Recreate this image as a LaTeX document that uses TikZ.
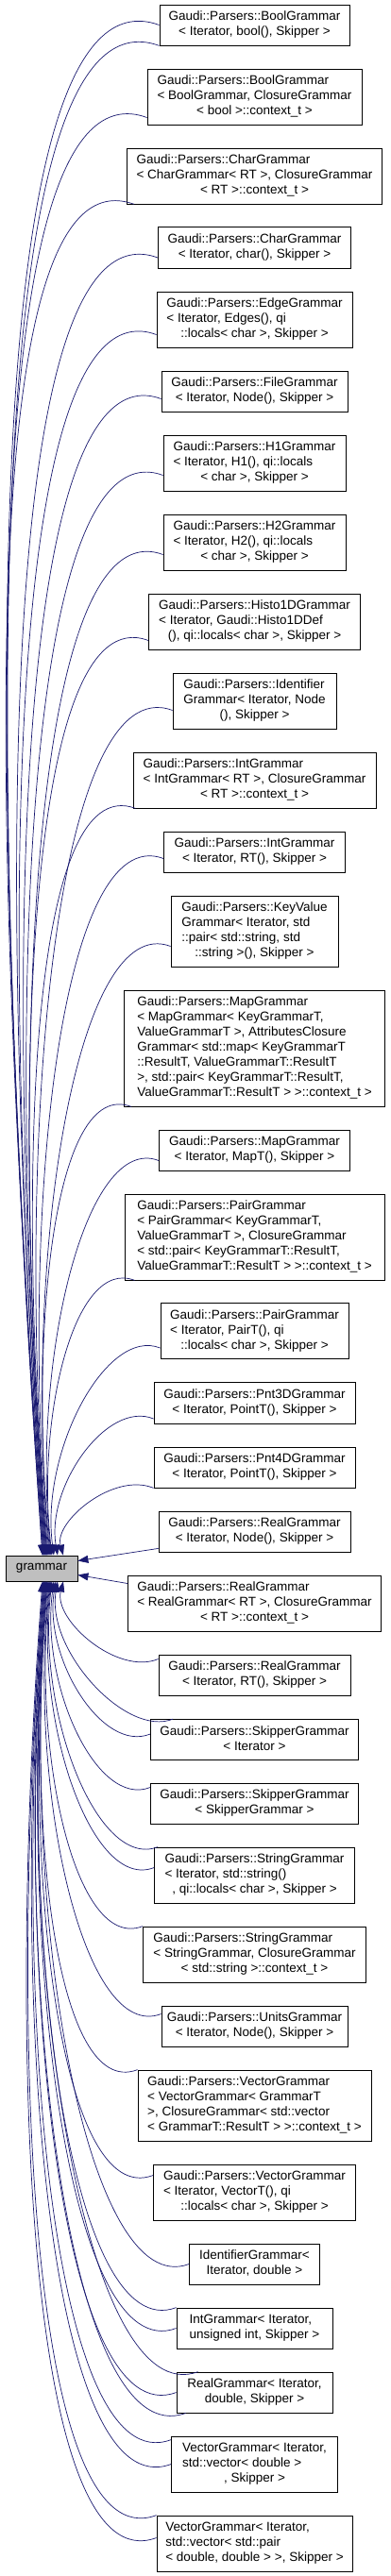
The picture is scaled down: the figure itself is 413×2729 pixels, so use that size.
\documentclass[tikz,border=0pt]{standalone}
\usepackage{fontspec}
\setmainfont{Liberation Sans}
\usetikzlibrary{arrows.meta,calc}
\definecolor{edgec}{HTML}{191970}
\definecolor{gfill}{HTML}{BFBFBF}
\newcommand\lbl[2]{\begin{tabular}{@{}l@{}}#1\\\multicolumn{1}{@{}c@{}}{#2}\end{tabular}}
\tikzset{
 box/.style={draw=black, line width=0.8pt, fill=white, inner sep=0pt, font=\fontsize{13.5}{16}\selectfont},
 edge/.style={draw=edgec, line width=0.7pt, -{Triangle[length=11pt,width=8pt]}},
}
\newcommand\bx[5]{\node[box, minimum width=#2pt, minimum height=#3pt] (#1) at (269.5,#4) {#5};}
% upper edge: #1 start point on box, #2 xshift at grammar top
\newcommand\upe[2]{\draw[edge] let \p1=(#1), \p2=([xshift=#2]g.north), \n1={\y1-\y2} in (\p1) .. controls ($(\p1)+({-(35+0.1*\n1)},{15+0.035*\n1})$) and ({\x2-(8+0.03*\n1)},{0.5*(\y1+\y2)}) .. (\p2);}
% lower edge
\newcommand\dne[2]{\draw[edge] let \p1=(#1), \p2=([xshift=#2]g.south), \n1={\y2-\y1} in (\p1) .. controls ($(\p1)+({-(35+0.1*\n1)},{-(15+0.035*\n1)})$) and ({\x2-(8+0.03*\n1)},{0.5*(\y1+\y2)}) .. (\p2);}
\begin{document}
\begin{tikzpicture}[x=1pt,y=-1pt]
\fill[white] (0,0) rectangle (413,2729);
\useasboundingbox (0,0) rectangle (413,2729);
\node[box, fill=gfill, minimum width=76pt, minimum height=27pt] (g) at (44,1661.5) {grammar};
\bx{b1}{201}{43}{26.5}{\lbl{Gaudi::Parsers::BoolGrammar}{< Iterator, bool(), Skipper >}}
\bx{b2}{227}{59}{102.5}{\lbl{Gaudi::Parsers::BoolGrammar\\< BoolGrammar, ClosureGrammar}{< bool >::context\_t >}}
\bx{b3}{270}{59}{186.5}{\lbl{Gaudi::Parsers::CharGrammar\\< CharGrammar< RT >, ClosureGrammar}{< RT >::context\_t >}}
\bx{b4}{204}{44}{262}{\lbl{Gaudi::Parsers::CharGrammar}{< Iterator, char(), Skipper >}}
\bx{b5}{207}{59}{338.5}{\lbl{Gaudi::Parsers::EdgeGrammar\\< Iterator, Edges(), qi}{::locals< char >, Skipper >}}
\bx{b6}{197}{43}{414.5}{\lbl{Gaudi::Parsers::FileGrammar}{< Iterator, Node(), Skipper >}}
\bx{b7}{193}{59}{490.5}{\lbl{Gaudi::Parsers::H1Grammar\\< Iterator, H1(), qi::locals}{< char >, Skipper >}}
\bx{b8}{193}{59}{574.5}{\lbl{Gaudi::Parsers::H2Grammar\\< Iterator, H2(), qi::locals}{< char >, Skipper >}}
\bx{b9}{224}{59}{658.5}{\lbl{Gaudi::Parsers::Histo1DGrammar\\< Iterator, Gaudi::Histo1DDef}{(), qi::locals< char >, Skipper >}}
\bx{b10}{173}{59}{742.5}{\lbl{Gaudi::Parsers::Identifier\\Grammar< Iterator, Node}{(), Skipper >}}
\bx{b11}{257}{59}{826.5}{\lbl{Gaudi::Parsers::IntGrammar\\< IntGrammar< RT >, ClosureGrammar}{< RT >::context\_t >}}
\bx{b12}{192}{43}{902.5}{\lbl{Gaudi::Parsers::IntGrammar}{< Iterator, RT(), Skipper >}}
\bx{b13}{177}{75}{986.5}{\lbl{Gaudi::Parsers::KeyValue\\Grammar< Iterator, std\\::pair< std::string, std}{::string >(), Skipper >}}
\bx{b14}{276}{123}{1110.5}{\lbl{Gaudi::Parsers::MapGrammar\\< MapGrammar< KeyGrammarT,\\ValueGrammarT >, AttributesClosure\\Grammar< std::map< KeyGrammarT\\::ResultT, ValueGrammarT::ResultT\\>, std::pair< KeyGrammarT::ResultT,}{ValueGrammarT::ResultT > >::context\_t >}}
\bx{b15}{202}{43}{1218.5}{\lbl{Gaudi::Parsers::MapGrammar}{< Iterator, MapT(), Skipper >}}
\bx{b16}{275}{91}{1310.5}{\lbl{Gaudi::Parsers::PairGrammar\\< PairGrammar< KeyGrammarT,\\ValueGrammarT >, ClosureGrammar\\< std::pair< KeyGrammarT::ResultT,}{ValueGrammarT::ResultT > >::context\_t >}}
\bx{b17}{199}{59}{1410}{\lbl{Gaudi::Parsers::PairGrammar\\< Iterator, PairT(), qi}{::locals< char >, Skipper >}}
\bx{b18}{213}{44}{1486}{\lbl{Gaudi::Parsers::Pnt3DGrammar}{< Iterator, PointT(), Skipper >}}
\bx{b19}{213}{43}{1554.5}{\lbl{Gaudi::Parsers::Pnt4DGrammar}{< Iterator, PointT(), Skipper >}}
\bx{b20}{203}{43}{1622.5}{\lbl{Gaudi::Parsers::RealGrammar}{< Iterator, Node(), Skipper >}}
\bx{b21}{268}{59}{1698.5}{\lbl{Gaudi::Parsers::RealGrammar\\< RealGrammar< RT >, ClosureGrammar}{< RT >::context\_t >}}
\bx{b22}{203}{43}{1774.5}{\lbl{Gaudi::Parsers::RealGrammar}{< Iterator, RT(), Skipper >}}
\bx{b23}{220}{43}{1843}{\lbl{Gaudi::Parsers::SkipperGrammar}{< Iterator >}}
\bx{b24}{220}{43}{1910.5}{\lbl{Gaudi::Parsers::SkipperGrammar}{< SkipperGrammar >}}
\bx{b25}{212}{59}{1986.5}{\lbl{Gaudi::Parsers::StringGrammar\\< Iterator, std::string()}{, qi::locals< char >, Skipper >}}
\bx{b26}{236}{59}{2070.5}{\lbl{Gaudi::Parsers::StringGrammar\\< StringGrammar, ClosureGrammar}{< std::string >::context\_t >}}
\bx{b27}{197}{43}{2146.5}{\lbl{Gaudi::Parsers::UnitsGrammar}{< Iterator, Node(), Skipper >}}
\bx{b28}{247}{75}{2230.5}{\lbl{Gaudi::Parsers::VectorGrammar\\< VectorGrammar< GrammarT\\>, ClosureGrammar< std::vector}{< GrammarT::ResultT > >::context\_t >}}
\bx{b29}{214}{59}{2322.5}{\lbl{Gaudi::Parsers::VectorGrammar\\< Iterator, VectorT(), qi}{::locals< char >, Skipper >}}
\bx{b30}{138}{43}{2398.5}{\lbl{IdentifierGrammar<}{Iterator, double >}}
\bx{b31}{165}{43}{2466.5}{\lbl{IntGrammar< Iterator,}{unsigned int, Skipper >}}
\bx{b32}{165}{43}{2534.5}{\lbl{RealGrammar< Iterator,}{double, Skipper >}}
\bx{b33}{176}{59}{2610.5}{\lbl{VectorGrammar< Iterator,\\std::vector< double >}{, Skipper >}}
\bx{b34}{207}{59}{2694.5}{\lbl{VectorGrammar< Iterator,\\std::vector< std::pair}{< double, double > >, Skipper >}}
% upper edges
\upe{b1.west}{1}
\upe{b1.south west}{1}
\upe{[yshift=-22]b2.west}{2}
\upe{[xshift=8]b3.south west}{2}
\upe{[yshift=-11]b4.west}{3}
\upe{[yshift=-16]b5.west}{3}
\upe{[yshift=-8]b6.west}{4}
\upe{[yshift=-13]b7.west}{4}
\upe{[yshift=-13]b8.west}{5}
\upe{[yshift=-20]b9.west}{5}
\upe{[yshift=-10]b10.west}{6}
\upe{[xshift=3]b11.south west}{6}
\upe{[yshift=-7]b12.west}{7}
\upe{[yshift=-16]b13.west}{8}
\upe{[xshift=8]b14.south west}{9}
\upe{[yshift=-11]b15.west}{10}
\upe{[xshift=11]b16.south west}{11}
\upe{[yshift=-18]b17.west}{13}
\upe{[yshift=-17]b18.west}{17}
\upe{b19.south west}{23}
\draw[edge] ([yshift=4]b20.south west) -- ([yshift=8]g.east);
\draw[edge] ([yshift=21]b21.west) -- ([yshift=-7]g.east);
% lower edges
\dne{[yshift=17]b22.west}{23}
\dne{[xshift=24]b23.north west}{17}
\dne{[yshift=6]b23.west}{15}
\dne{[yshift=17]b24.west}{13}
\dne{[xshift=4]b25.north west}{11}
\dne{[yshift=8]b25.west}{10}
\dne{b26.north west}{9}
\dne{[yshift=13]b27.west}{8}
\dne{b28.north west}{7}
\dne{[yshift=18]b29.west}{6}
\dne{b30.west}{6}
\dne{b31.north west}{5}
\dne{b31.west}{5}
\dne{[xshift=23]b32.north west}{4}
\dne{b32.west}{4}
\dne{[xshift=10]b32.south west}{3}
\dne{[yshift=-4]b33.north west}{3}
\dne{b33.west}{2}
\dne{b34.north west}{2}
\dne{[yshift=6]b34.west}{1}
\end{tikzpicture}
\end{document}
